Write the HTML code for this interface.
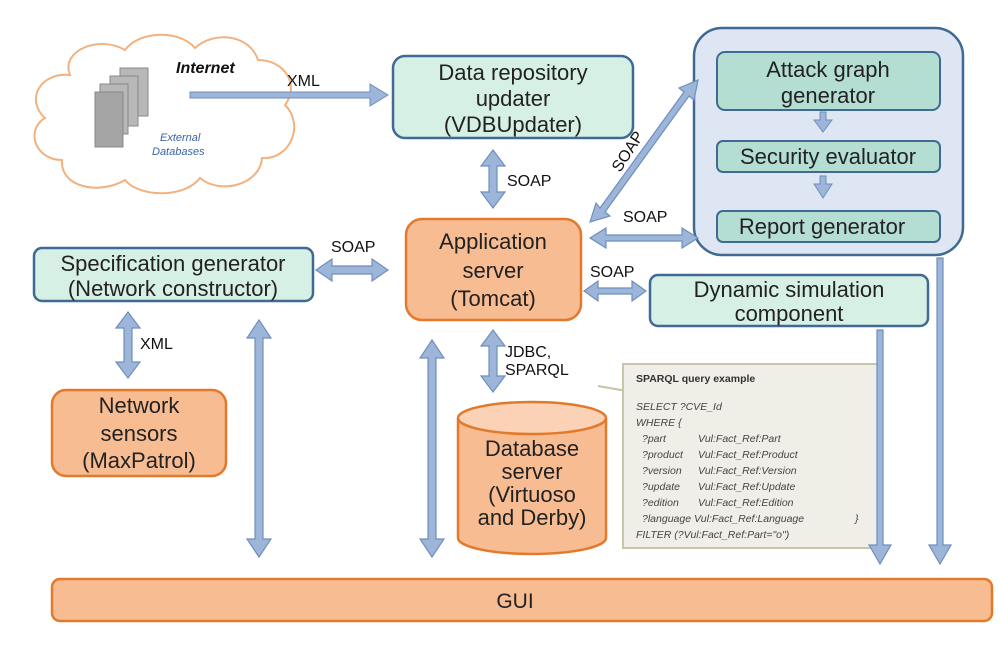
<!DOCTYPE html>
<html><head><meta charset="utf-8"><style>
html,body{margin:0;padding:0;background:#fff;}
svg{display:block}
text{font-family:"Liberation Sans",sans-serif;}
</style></head><body>
<svg width="1000" height="661" viewBox="0 0 1000 661" xmlns="http://www.w3.org/2000/svg">
<rect width="1000" height="661" fill="#fff"/>
<!-- cloud -->
<path d="M70,75 C60,50 100,35 125,50 C140,30 180,30 195,48 C215,30 250,35 258,60 C285,60 300,85 285,105 C305,125 290,160 262,158 C260,185 220,195 200,178 C185,198 140,198 125,180 C100,195 60,188 62,160 C35,160 25,130 45,118 C25,100 40,72 70,75 Z" fill="#fff" stroke="#f2b27f" stroke-width="2"/>
<g fill="#b8b8b8" stroke="#888" stroke-width="1">
<rect x="120" y="68" width="28" height="48"/>
<rect x="110" y="76" width="28" height="50"/>
<rect x="100" y="84" width="28" height="50"/>
<rect x="95" y="92" width="28" height="55" fill="#a5a5a5"/>
</g>
<text x="176" y="73" font-size="16" font-weight="bold" font-style="italic" fill="#111">Internet</text>
<text x="160" y="141" font-size="11" font-style="italic" fill="#3b64a8">External</text>
<text x="152" y="155" font-size="11" font-style="italic" fill="#3b64a8">Databases</text>
<polygon points="190,92 370,92 370,84 388,95 370,106 370,98 190,98" fill="#9db5d8" stroke="#6f8fbf"/>
<text x="287" y="86" font-size="16" fill="#111">XML</text>

<rect x="393" y="56" width="240" height="82" rx="12" fill="#d7f0e5" stroke="#3f6a94" stroke-width="2.5"/>
<g font-size="22" fill="#222" text-anchor="middle">
<text x="513" y="80">Data repository</text>
<text x="513" y="106">updater</text>
<text x="513" y="132">(VDBUpdater)</text>
</g>

<rect x="694" y="28" width="269" height="227" rx="28" fill="#dde6f2" stroke="#3f6a94" stroke-width="2.5"/>
<rect x="717" y="52" width="223" height="58" rx="8" fill="#b5ded3" stroke="#3f6a94" stroke-width="2"/>
<text x="828" y="77" font-size="22" text-anchor="middle" fill="#222">Attack graph</text>
<text x="828" y="103" font-size="22" text-anchor="middle" fill="#222">generator</text>
<rect x="717" y="141" width="223" height="31" rx="6" fill="#b5ded3" stroke="#3f6a94" stroke-width="2"/>
<text x="828" y="164" font-size="22" text-anchor="middle" fill="#222">Security evaluator</text>
<rect x="717" y="211" width="223" height="31" rx="6" fill="#b5ded3" stroke="#3f6a94" stroke-width="2"/>
<text x="822" y="234" font-size="22" text-anchor="middle" fill="#222">Report generator</text>
<polygon points="820,112 826,112 826,120 832,120 823,132 814,120 820,120" fill="#9db5d8" stroke="#6f8fbf"/>
<polygon points="820,176 826,176 826,184 832,184 823,198 814,184 820,184" fill="#9db5d8" stroke="#6f8fbf"/>

<rect x="406" y="219" width="175" height="101" rx="16" fill="#f8bc92" stroke="#e3792b" stroke-width="2.5"/>
<g font-size="22" fill="#222" text-anchor="middle">
<text x="493" y="249">Application</text>
<text x="493" y="278">server</text>
<text x="493" y="306">(Tomcat)</text>
</g>

<rect x="34" y="248" width="279" height="53" rx="8" fill="#d7f0e5" stroke="#3f6a94" stroke-width="2.5"/>
<text x="173" y="271" font-size="22" text-anchor="middle" fill="#222">Specification generator</text>
<text x="173" y="296" font-size="22" text-anchor="middle" fill="#222">(Network constructor)</text>

<rect x="650" y="275" width="278" height="51" rx="8" fill="#d7f0e5" stroke="#3f6a94" stroke-width="2.5"/>
<text x="789" y="297" font-size="22" text-anchor="middle" fill="#222">Dynamic simulation</text>
<text x="789" y="321" font-size="22" text-anchor="middle" fill="#222">component</text>

<rect x="52" y="390" width="174" height="86" rx="14" fill="#f8bc92" stroke="#e3792b" stroke-width="2.5"/>
<g font-size="22" fill="#222" text-anchor="middle">
<text x="139" y="413">Network</text>
<text x="139" y="441">sensors</text>
<text x="139" y="468">(MaxPatrol)</text>
</g>

<path d="M458,418 L458,538 A74,16 0 0 0 606,538 L606,418" fill="#f8bc92" stroke="#e3792b" stroke-width="2.5"/>
<ellipse cx="532" cy="418" rx="74" ry="16" fill="#fbd2b5" stroke="#e3792b" stroke-width="2.5"/>
<g font-size="22" fill="#222" text-anchor="middle">
<text x="532" y="456">Database</text>
<text x="532" y="479">server</text>
<text x="532" y="502">(Virtuoso</text>
<text x="532" y="525">and Derby)</text>
</g>
<line x1="598" y1="386" x2="638" y2="393" stroke="#c9c2a0" stroke-width="2"/>

<rect x="623" y="364" width="256" height="184" fill="#efeee7" stroke="#c9c5ab" stroke-width="2"/>
<g font-size="10.5" fill="#333">
<text x="636" y="382" font-weight="bold">SPARQL query example</text>
<g font-style="italic" fill="#444">
<text x="636" y="410">SELECT ?CVE_Id</text>
<text x="636" y="426">WHERE {</text>
<text x="642" y="442">?part</text><text x="698" y="442">Vul:Fact_Ref:Part</text>
<text x="642" y="458">?product</text><text x="698" y="458">Vul:Fact_Ref:Product</text>
<text x="642" y="474">?version</text><text x="698" y="474">Vul:Fact_Ref:Version</text>
<text x="642" y="490">?update</text><text x="698" y="490">Vul:Fact_Ref:Update</text>
<text x="642" y="506">?edition</text><text x="698" y="506">Vul:Fact_Ref:Edition</text>
<text x="642" y="522">?language Vul:Fact_Ref:Language</text><text x="855" y="522">}</text>
<text x="636" y="538">FILTER (?Vul:Fact_Ref:Part="o")</text>
</g></g>

<rect x="52" y="579" width="940" height="42" rx="8" fill="#f8bc92" stroke="#e3792b" stroke-width="2.5"/>
<text x="515" y="608" font-size="21" text-anchor="middle" fill="#222">GUI</text>

<g fill="#9db5d8" stroke="#6f8fbf" stroke-width="1.2">
<polygon points="493,150 505,166 497,166 497,192 505,192 493,208 481,192 489,192 489,166 481,166"/>
<polygon points="493,330 505,346 497,346 497,376 505,376 493,392 481,376 489,376 489,346 481,346"/>
<polygon points="128,312 140,328 132,328 132,362 140,362 128,378 116,362 124,362 124,328 116,328"/>
<polygon points="259,320 271,338 263,338 263,539 271,539 259,557 247,539 255,539 255,338 247,338"/>
<polygon points="432,340 444,358 436,358 436,539 444,539 432,557 420,539 428,539 428,358 420,358"/>
<polygon points="316,270 332,259 332,266 372,266 372,259 388,270 372,281 372,274 332,274 332,281"/>
<polygon points="584,291 598,281 598,288 632,288 632,281 646,291 632,301 632,294 598,294 598,301"/>
<polygon points="590,238 606,228 606,235 682,235 682,228 698,238 682,248 682,241 606,241 606,248"/>
<polygon points="590,222 596,203 600,208 684,92 679,88 698,80 694,100 689,96 605,212 610,216"/>
<polygon points="877,330 883,330 883,545 891,545 880,564 869,545 877,545"/>
<polygon points="937,258 943,258 943,545 951,545 940,564 929,545 937,545"/>
</g>
<g font-size="16" fill="#111">
<text x="507" y="186">SOAP</text>
<text x="505" y="357">JDBC,</text>
<text x="505" y="375">SPARQL</text>
<text x="140" y="349">XML</text>
<text x="331" y="252">SOAP</text>
<text x="590" y="277">SOAP</text>
<text x="623" y="222">SOAP</text>
<text x="0" y="0" transform="translate(620,173) rotate(-57)">SOAP</text>
</g>
</svg>
</body></html>
